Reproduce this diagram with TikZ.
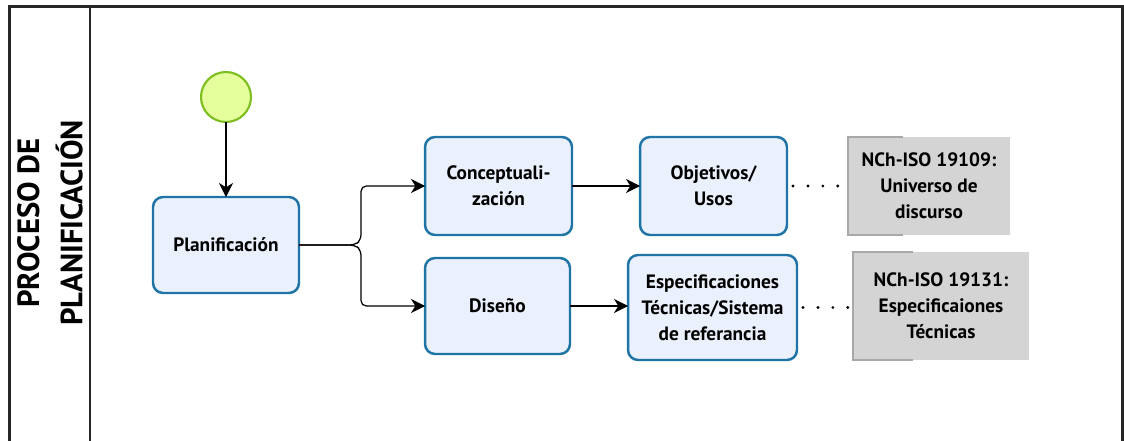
\documentclass[tikz,border=0pt]{standalone}
\usepackage{fontspec}
\setmainfont{PT Sans}
\usepackage{xcolor}
\usetikzlibrary{arrows.meta,calc,positioning}

\definecolor{taskline}{HTML}{1F74A6}
\definecolor{taskfill}{HTML}{EAF0FC}
\definecolor{startline}{HTML}{7DBE1E}
\definecolor{startfill}{HTML}{E4FF9C}
\definecolor{notefill}{HTML}{D4D4D4}
\definecolor{noteline}{HTML}{A8A8A8}

\tikzset{
  task/.style={draw=taskline,fill=taskfill,line width=1.4pt,rounded corners=0.2cm,
    align=center,font=\fontsize{11}{14.7}\selectfont\bfseries,inner sep=2pt,outer sep=0pt},
  note/.style={fill=notefill,align=center,font=\fontsize{11}{14.7}\selectfont\bfseries,
    inner sep=2pt,outer sep=0pt},
  flow/.style={->,line width=0.7pt},
  assoc/.style={line width=1.8pt,line cap=round,dash pattern=on 0pt off 8.5pt},
}

\begin{document}
\begin{tikzpicture}[x=0.02cm,y=-0.02cm,>={Stealth[length=8pt,width=8pt,inset=2.5pt]}]
    \useasboundingbox (0,0) rectangle (1124,440);
    % pool
    \draw[line width=1.3pt,draw=black!85] (9.5,450) -- (9.5,6.5) -- (1122.5,6.5) -- (1122.5,450);
    \draw[line width=1.3pt,draw=black!85] (90,6.5) -- (90,450);
    \node[rotate=90,align=center,font=\fontsize{17.5}{24.5}\selectfont\bfseries]
      (lane) at (50,223) {PROCESO DE\\PLANIFICACIÓN};
    % events and tasks
    \node[circle,draw=startline,fill=startfill,line width=1.2pt,minimum size=1cm,
      inner sep=0pt,outer sep=0pt] (inicio) at (226,97) {};
    \node[task,minimum width=2.92cm,minimum height=1.92cm] (plan) at (226,245) {Planificación};
    \node[task,minimum width=2.94cm,minimum height=1.96cm] (concep) at (498.5,186)
      {Conceptuali-\\zación};
    \node[task,minimum width=2.90cm,minimum height=1.92cm] (diseno) at (497.5,306) {Diseño};
    \node[task,minimum width=2.94cm,minimum height=1.96cm] (obj) at (713.5,186)
      {Objetivos/\\Usos};
    \node[task,minimum width=3.38cm,minimum height=2.10cm] (espec) at (712.5,307.5)
      {Especificaciones\\Técnicas/Sistema\\de referancia};
    % annotations
    \node[note,minimum width=3.24cm,minimum height=1.96cm] (nch1) at (929,186)
      {NCh-ISO 19109:\\Universo de\\discurso};
    \node[note,minimum width=3.52cm,minimum height=2.16cm] (nch2) at (941,306)
      {NCh-ISO 19131:\\Especificaiones\\Técnicas};
    \draw[noteline,line width=0.8pt] ($(nch1.north west)+(55,0)$) -- (nch1.north west)
      -- (nch1.south west) -- ++(55,0);
    \draw[noteline,line width=0.8pt] ($(nch2.north west)+(60,0)$) -- (nch2.north west)
      -- (nch2.south west) -- ++(60,0);
    % flows
    \draw[flow] (inicio) -- (plan);
    \coordinate (split) at (361,245);
    \draw[flow,rounded corners=3pt] (plan.east) -- ($(split)+(-6,0)$) -- ($(split)+(0,-5)$)
      |- (concep.west);
    \draw[flow,rounded corners=3pt] (plan.east) -- ($(split)+(-6,0)$) -- ($(split)+(0,5)$)
      |- (diseno.west);
    \draw[flow] (concep) -- (obj);
    \draw[flow] (diseno.east) -- (diseno.east -| espec.west);
    \draw[assoc] ($(obj.east)+(6,0)$) -- (nch1.west);
    \draw[assoc] ($(espec.east)+(6,0)$) -- (espec.east -| nch2.west);
  \end{tikzpicture}
\end{document}
